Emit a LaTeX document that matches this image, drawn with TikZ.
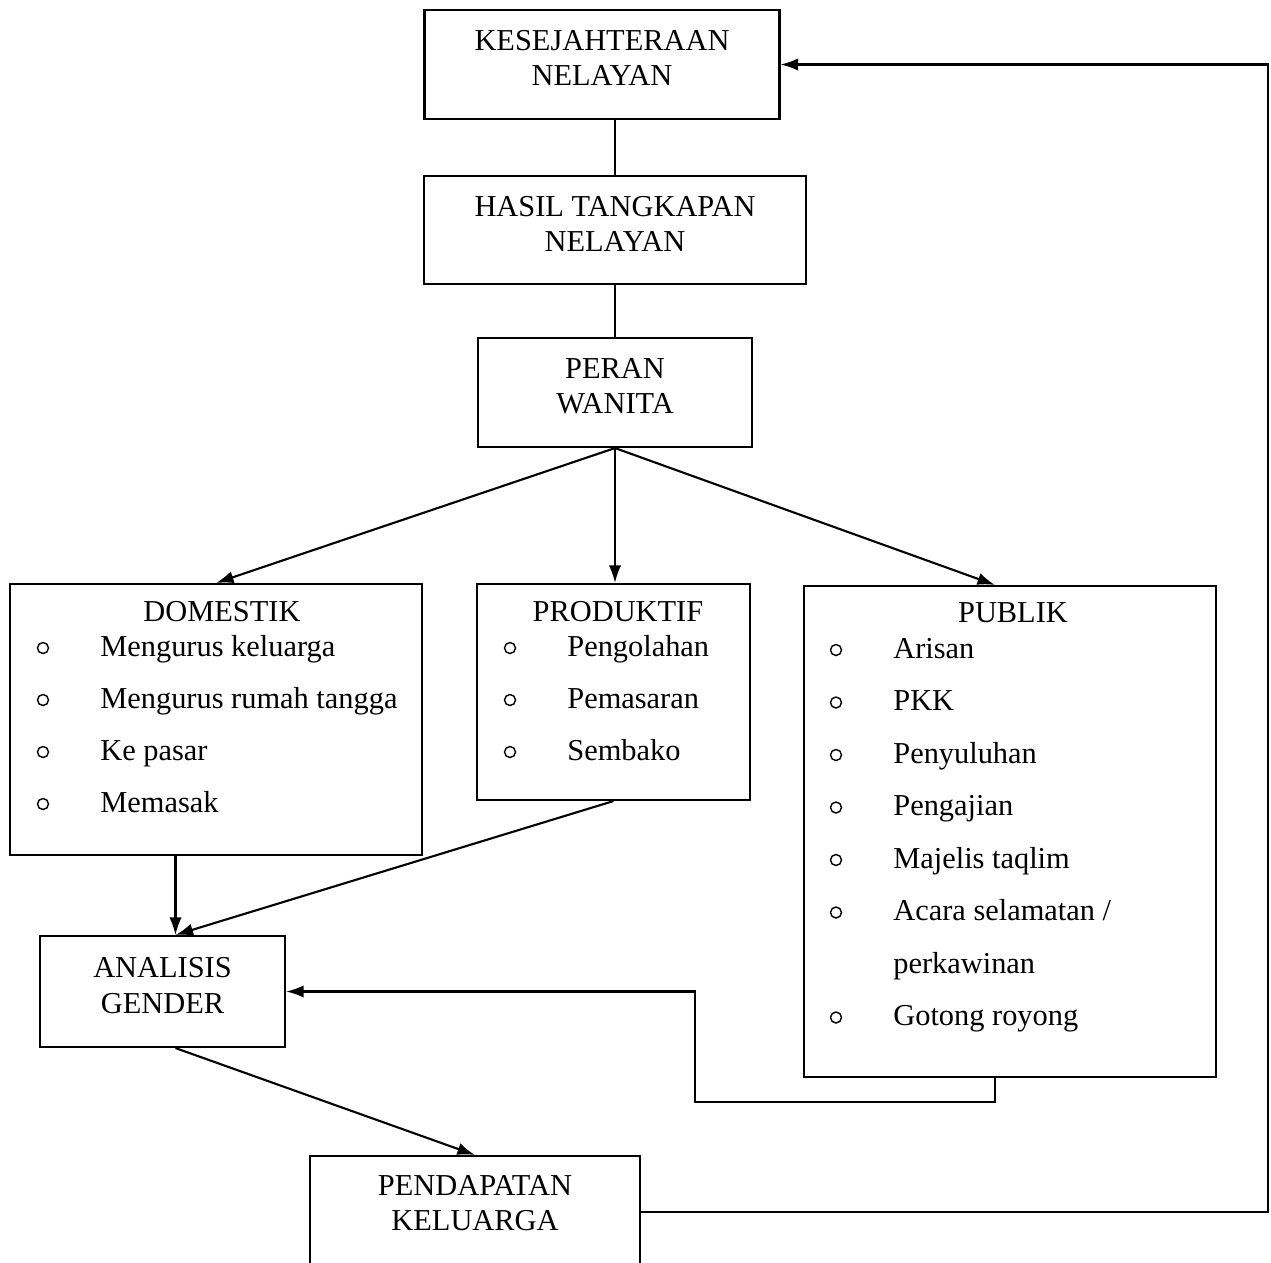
\documentclass[tikz,border=0pt]{standalone}
\usepackage{fontspec}
\setmainfont{Liberation Serif}
\usetikzlibrary{arrows,arrows.meta,positioning,calc}

\begin{document}
\begin{tikzpicture}[x=0.02cm,y=-0.02cm]
% all boxes and lines share the same pen
\tikzset{box/.style={draw, line width=1.2pt, inner sep=0pt, align=center, font=\fontsize{17.3}{20}\selectfont}}
\tikzset{twoline/.style={text depth=7pt}}
\tikzset{entry/.style={anchor=base west, inner sep=0pt, font=\fontsize{17.3}{20}\selectfont}}
\tikzset{bullet/.style={draw, circle, line width=0.8pt, inner sep=0pt, minimum size=0.22cm}}
\tikzset{link/.style={line width=1.2pt, -{Latex[length=10pt,width=7pt]}}}
\clip (0,0) rectangle (1271,1262); % page is the reference frame

\node[box, twoline, minimum width=7.1cm, minimum height=2.18cm] (kes) at (602,64.5) {KESEJAHTERAAN\\NELAYAN};
\node[box, twoline, minimum width=7.64cm, minimum height=2.16cm] (hasil) at (615,230) {HASIL TANGKAPAN\\NELAYAN};
\node[box, twoline, minimum width=5.48cm, minimum height=2.18cm] (peran) at (615,392.5) {PERAN\\WANITA};

\node[box, minimum width=8.24cm, minimum height=5.42cm] (dom) at (216,719.5) {};
\node[box, minimum width=5.46cm, minimum height=4.32cm] (prod) at (613.5,692) {};
\node[box, minimum width=8.24cm, minimum height=9.82cm] (pub) at (1010,831.5) {};
\node[box, draw=none] (domtitle) at (222,612) {DOMESTIK};
\node[box, draw=none] (prodtitle) at (618,612) {PRODUKTIF};
\node[box, draw=none] (pubtitle) at (1013,613) {PUBLIK};

% lists inside the three boxes
\foreach \txt [count=\i] in {Mengurus keluarga, Mengurus rumah tangga, Ke pasar, Memasak} {
  \node[bullet] (domdot\i) at (43,596+52*\i) {};
  \node[entry] (dom\i) at (100,604+52*\i) {\txt};
}
\foreach \txt [count=\i] in {Pengolahan, Pemasaran, Sembako} {
  \node[bullet] (proddot\i) at (510,596+52*\i) {};
  \node[entry] (prod\i) at (567,604+52*\i) {\txt};
}
\foreach \txt [count=\i] in {Arisan, PKK, Penyuluhan, Pengajian, Majelis taqlim, Acara selamatan /, perkawinan, Gotong royong} {
  \node[entry] (pub\i) at (893,605.5+52.5*\i) {\txt};
}
\foreach \i in {1,...,6,8} {
  \node[bullet] (pubdot\i) at (836,597.5+52.5*\i) {};
}

\node[box, twoline, minimum width=4.9cm, minimum height=2.22cm] (ana) at (162.5,991.5) {ANALISIS\\GENDER};
\node[box, minimum width=6.6cm, minimum height=2.8cm, anchor=north] (pend) at (475,1155) {};
\node[box, draw=none] (pendtext) at (475,1203) {PENDAPATAN\\KELUARGA};

\coordinate (anatop) at ($(ana.north)+(13,0)$);
\coordinate (pubin) at ($(pub.north)+(-15,0)$);
\coordinate (pubout) at ($(pub.south)+(-15,0)$);
\coordinate (bend) at (695,1102);
\coordinate (pendout) at ($(pend.north east)+(0,57)$);
\coordinate (rim) at (1268,0);

\draw[line width=1.2pt] (kes.south -| hasil.north) -- (hasil.north);
\draw[line width=1.2pt] (hasil.south) -- (peran.north);
\draw[link] (peran.south) -- (dom.north);
\draw[link] (peran.south) -- (peran.south |- prod.north);
\draw[link] (peran.south) -- (pubin);
\draw[link] (dom.south -| anatop) -- (anatop);
\draw[link] (prod.south) -- (anatop);
\draw[link] (pubout) |- (bend) |- (ana.east);
\draw[link] ($(ana.south)+(13,0)$) -- (pend.north);
\draw[link] (pendout) -- (pendout -| rim) |- (kes.east);
\end{tikzpicture}
\end{document}
